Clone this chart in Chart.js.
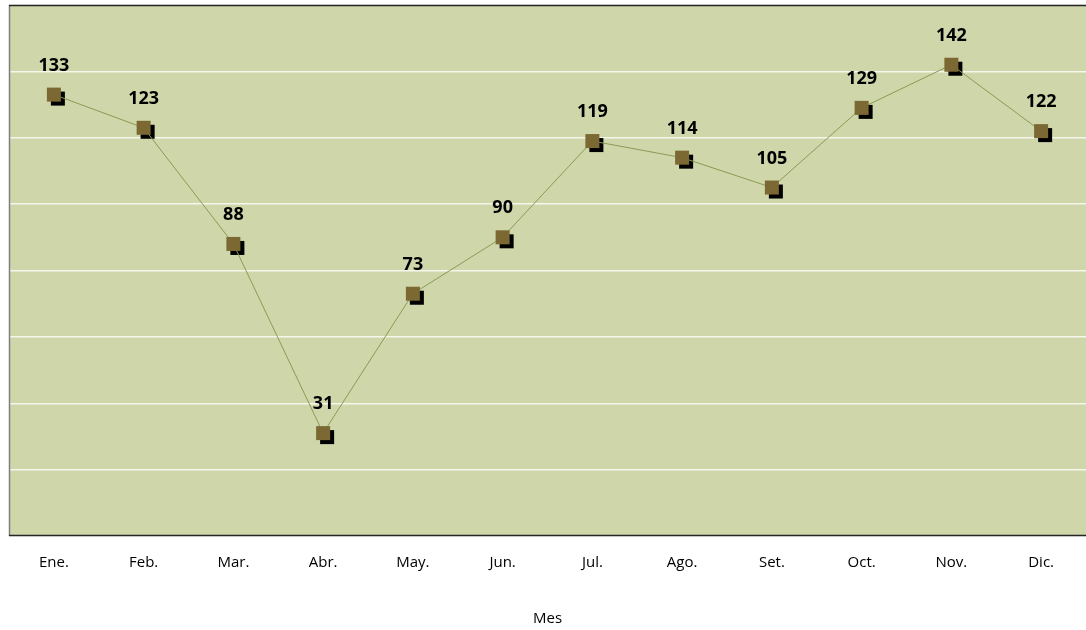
<!DOCTYPE html>
<html>
<head>
<meta charset="utf-8">
<script src="https://cdn.jsdelivr.net/npm/chart.js@4/dist/chart.umd.min.js"></script>
<style>
  html, body { margin: 0; padding: 0; background: #fff; }
  #wrap { width: 1086px; height: 630px; }
</style>
</head>
<body>
<div id="wrap"><canvas id="lineChart" width="1086" height="630"></canvas></div>
<script>
// Data
const months = ["Ene.", "Feb.", "Mar.", "Abr.", "May.", "Jun.", "Jul.", "Ago.", "Set.", "Oct.", "Nov.", "Dic."];
const values = [133, 123, 88, 31, 73, 90, 119, 114, 105, 129, 142, 122];
const yMin = 0;
const yMax = 160;
const yStep = 20;

const fontFamily = "'Open Sans', 'Noto Sans', sans-serif";

// plot background + frame (left, top, bottom edges)
const plotArea = {
  id: "plotArea",
  beforeDraw(chart) {
    const { ctx, chartArea: a } = chart;
    ctx.save();
    ctx.fillStyle = "#ced6aa";
    ctx.fillRect(a.left, a.top, a.right - a.left, a.bottom - a.top);
    ctx.restore();
  },
  afterDatasetsDraw(chart) {
    const { ctx, chartArea: a } = chart;
    ctx.save();
    ctx.lineWidth = 1.5;
    ctx.strokeStyle = "#808080";
    ctx.beginPath();
    ctx.moveTo(a.left + 0.5, a.top);
    ctx.lineTo(a.left + 0.5, a.bottom);
    ctx.stroke();
    ctx.strokeStyle = "#262626";
    ctx.beginPath();
    ctx.moveTo(a.left, a.top + 0.5);
    ctx.lineTo(a.right, a.top + 0.5);
    ctx.moveTo(a.left, a.bottom - 0.5);
    ctx.lineTo(a.right, a.bottom - 0.5);
    ctx.stroke();
    ctx.restore();
  },
};

// black drop shadow behind the markers
const shadowUnder = {
  id: "shadowUnder",
  beforeDatasetsDraw(chart) {
    const { ctx } = chart;
    const meta = chart.getDatasetMeta(0);
    ctx.save();
    ctx.fillStyle = "#000";
    meta.data.forEach((pt) => {
      ctx.fillRect(pt.x - 7 + 4, pt.y - 7 + 4, 14, 14);
    });
    ctx.restore();
  },
};

// value labels above the markers
const valueLabels = {
  id: "valueLabels",
  afterDatasetsDraw(chart) {
    const { ctx } = chart;
    const meta = chart.getDatasetMeta(0);
    ctx.save();
    ctx.font = "bold 18px " + fontFamily;
    ctx.fillStyle = "#000";
    ctx.textAlign = "center";
    ctx.textBaseline = "middle";
    meta.data.forEach((pt, i) => {
      ctx.fillText(String(values[i]), pt.x, pt.y - 29);
    });
    ctx.restore();
  },
};

const ctx = document.getElementById("lineChart").getContext("2d");
new Chart(ctx, {
  type: "line",
  data: {
    labels: months,
    datasets: [
      {
        data: values,
        borderColor: "#8c9a55",
        borderWidth: 1,
        pointStyle: "rect",
        pointRadius: 9.9,
        pointBackgroundColor: "#7b6832",
        pointBorderColor: "#7b6832",
        pointBorderWidth: 0,
        tension: 0,
      },
    ],
  },
  options: {
    responsive: false,
    animation: false,
    layout: { autoPadding: false, padding: { left: 9, right: 0, top: 5, bottom: 2 } },
    plugins: {
      legend: { display: false },
      tooltip: { enabled: false },
    },
    scales: {
      x: {
        offset: true,
        grid: { display: false },
        border: { display: false },
        ticks: { color: "#000", font: { family: fontFamily, size: 15 }, padding: 10 },
        title: {
          display: true,
          text: "Mes",
          color: "#000",
          font: { family: fontFamily, size: 15 },
          padding: { top: 28, bottom: 0 },
        },
      },
      y: {
        min: yMin,
        max: yMax,
        ticks: { display: false, stepSize: yStep },
        grid: { color: "#f6f6ec", lineWidth: 1.5, drawTicks: false },
        border: { display: false },
      },
    },
  },
  plugins: [plotArea, shadowUnder, valueLabels],
});
</script>
</body>
</html>
